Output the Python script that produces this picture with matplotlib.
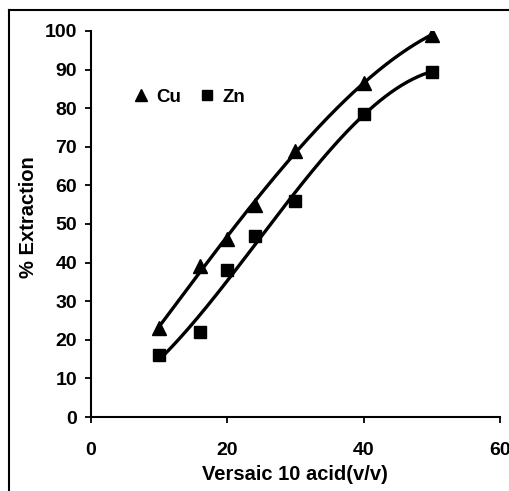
import numpy as np
import matplotlib
matplotlib.use("Agg")
import matplotlib.pyplot as plt
from matplotlib.lines import Line2D

plt.rcParams['font.family'] = ['Liberation Sans', 'DejaVu Sans']
plt.rcParams['font.weight'] = 'bold'

x_vals = [10, 16, 20, 24, 30, 40, 50]
cu_vals = [23, 39, 46, 55, 69, 86.5, 99]
zn_vals = [16, 22, 38, 47, 56, 78.5, 89.5]
x_ticks = [0, 20, 40, 60]
y_ticks = list(range(0, 101, 10))

FS = 14

fig = plt.figure(figsize=(5.10, 4.91), dpi=100)
ax = fig.add_axes([0.1784, 0.1507, 0.980 - 0.1784, 0.9369 - 0.1507])

xs = np.array(x_vals, dtype=float)
xf = np.linspace(xs.min(), xs.max(), 200)
for vals, mk, ms in [(cu_vals, '^', 10), (zn_vals, 's', 8.5)]:
    coef = np.polyfit(xs, np.array(vals, dtype=float), 3)
    ax.plot(xf, np.polyval(coef, xf), color='black', lw=2.4, zorder=2)
    ax.plot(xs, vals, linestyle='none', marker=mk, ms=ms, color='black', zorder=3)

ax.set_xlim(0, 60)
ax.set_ylim(0, 100)
ax.set_xticks(x_ticks)
ax.set_yticks(y_ticks)
ax.spines['top'].set_visible(False)
ax.spines['right'].set_visible(False)
ax.spines['left'].set_linewidth(1.5)
ax.spines['bottom'].set_linewidth(1.5)
ax.tick_params(axis='both', direction='out', length=4, width=1.3, labelsize=FS)
ax.tick_params(axis='y', pad=6)
ax.tick_params(axis='x', pad=14)
for lab in ax.get_xticklabels() + ax.get_yticklabels():
    lab.set_fontweight('bold')

ax.set_xlabel('Versaic 10 acid(v/v)', fontsize=FS + 0.5, fontweight='bold', labelpad=4)
ax.set_ylabel('% Extraction', fontsize=FS + 0.5, fontweight='bold')
ax.yaxis.set_label_coords(-0.13, 0.517)

handles = [Line2D([], [], linestyle='none', marker='^', ms=9, color='black'),
           Line2D([], [], linestyle='none', marker='s', ms=7.5, color='black')]
ax.legend(handles, ['Cu', 'Zn'], ncol=2, frameon=False, loc='upper left',
          bbox_to_anchor=(0.077, 0.884), handlelength=0.6, handletextpad=0.5,
          columnspacing=1.1, borderaxespad=0.3, prop={'size': 13.5, 'weight': 'bold'})

# outer frame (left and top edges visible)
fig.add_artist(Line2D([9 / 510, 9 / 510], [0, 1 - 10 / 491], color='black', lw=1.5,
                      transform=fig.transFigure))
fig.add_artist(Line2D([9 / 510, 1], [1 - 10 / 491, 1 - 10 / 491], color='black', lw=1.5,
                      transform=fig.transFigure))

fig.savefig('out.png', dpi=100)
